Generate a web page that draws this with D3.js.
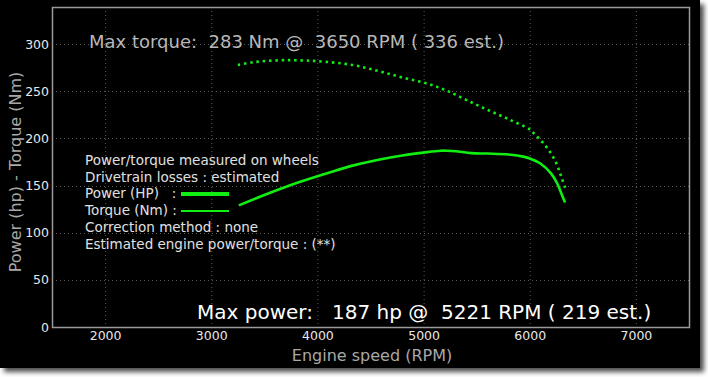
<!DOCTYPE html>
<html><head><meta charset="utf-8">
<script src="https://cdn.jsdelivr.net/npm/d3@7"></script>
<style>html,body{margin:0;padding:0;background:#fff;}svg{display:block;}</style>
</head><body>
<script>
// ---- data ----
const powerRpm = [3260, 3500, 3810, 4130, 4360, 4600, 4800, 5000, 5160, 5221, 5300, 5450, 5600, 5800, 5950, 6000, 6100, 6200, 6260, 6300, 6333];
const powerHp  = [129, 140, 153, 164.5, 172, 178, 182, 185, 187, 187, 186.5, 184.5, 184, 183, 180.5, 178.8, 173.5, 163, 152, 141, 132];
const torqueRpm = [3250, 3400, 3650, 3800, 4000, 4330, 4570, 4800, 5040, 5213, 5400, 5600, 5800, 6000, 6043, 6122, 6200, 6255, 6295, 6333];
const torqueNm  = [278, 281, 283, 283, 282, 278, 271.7, 264.7, 258, 251, 241, 230.5, 220.5, 209.6, 205, 195.8, 184, 172.5, 160, 147.7];
const xTicks = [2000, 3000, 4000, 5000, 6000, 7000];
const yTicks = [0, 50, 100, 150, 200, 250, 300];
const legendLines = ["Power/torque measured on wheels", "Drivetrain losses : estimated", "Power (HP)   :", "Torque (Nm) :", "Correction method : none", "Estimated engine power/torque : (**)"];
const maxTorqueText = "Max torque:  283 Nm @  3650 RPM ( 336 est.)";
const maxPowerText = "Max power:   187 hp @  5221 RPM ( 219 est.)";
const xTitle = "Engine speed (RPM)";
const yTitle = "Power (hp) - Torque (Nm)";

const W = 708, H = 377;
const svg = d3.select("body").append("svg").attr("width", W).attr("height", H);
const defs = svg.append("defs");
const f = defs.append("filter").attr("id", "sh").attr("x", "-5%").attr("y", "-5%").attr("width", "115%").attr("height", "115%");
f.append("feDropShadow").attr("dx", 4).attr("dy", 4).attr("stdDeviation", 2.5).attr("flood-color", "#000").attr("flood-opacity", 0.7);
svg.append("rect").attr("x", 0).attr("y", 0).attr("width", 700).attr("height", 368).attr("fill", "#000").attr("filter", "url(#sh)");

const L = 52, R = 689, T = 7, B = 327;
const x = d3.scaleLinear().domain([1500, 7500]).range([L, R]);
const y = d3.scaleLinear().domain([0, 339.5]).range([B, T]);
const font = "DejaVu Sans, sans-serif";

// grid
const g = svg.append("g");
g.selectAll(".vg").data(xTicks).join("line")
  .attr("x1", d => x(d) + 0.5).attr("x2", d => x(d) + 0.5).attr("y1", T).attr("y2", B)
  .attr("stroke", "#5a5a5a").attr("stroke-width", 1).attr("stroke-dasharray", "1,3");
g.selectAll(".hg").data(yTicks.filter(d => d > 0)).join("line")
  .attr("x1", L).attr("x2", R).attr("y1", d => Math.round(y(d)) + 0.5).attr("y2", d => Math.round(y(d)) + 0.5)
  .attr("stroke", "#5a5a5a").attr("stroke-width", 1).attr("stroke-dasharray", "1,3");

// frame
svg.append("rect").attr("x", L + 0.5).attr("y", T + 0.5).attr("width", R - L).attr("height", B - T)
  .attr("fill", "none").attr("stroke", "#9a9a9a").attr("stroke-width", 1.5);

// axes
const xa = svg.append("g").attr("transform", `translate(0,${B})`)
  .call(d3.axisBottom(x).tickValues(xTicks).tickSize(0).tickPadding(4).tickFormat(d3.format("d")));
xa.select(".domain").remove();
xa.selectAll("text").attr("fill", "#e8e8e8").attr("font-family", font).attr("font-size", "12.5px");
const ya = svg.append("g").attr("transform", `translate(${L},0)`)
  .call(d3.axisLeft(y).tickValues(yTicks).tickSize(0).tickPadding(3).tickFormat(d3.format("d")));
ya.select(".domain").remove();
ya.selectAll("text").attr("fill", "#e8e8e8").attr("font-family", font).attr("font-size", "12.5px");

// titles
svg.append("text").attr("x", 372).attr("y", 361).attr("text-anchor", "middle")
  .attr("fill", "#a8a8a8").attr("font-family", font).attr("font-size", "16px").text(xTitle);
svg.append("text").attr("transform", `translate(21,${(T + B) / 2 + 5}) rotate(-90)`).attr("text-anchor", "middle")
  .attr("fill", "#a8a8a8").attr("font-family", font).attr("font-size", "16px").text(yTitle);

// curves
const line = d3.line().curve(d3.curveCatmullRom.alpha(0.5));
svg.append("path").attr("d", line(torqueRpm.map((r, i) => [x(r), y(torqueNm[i])])))
  .attr("fill", "none").attr("stroke", "#11ee11").attr("stroke-width", 2.6).attr("stroke-dasharray", "2.5,3.8");
svg.append("path").attr("d", line(powerRpm.map((r, i) => [x(r), y(powerHp[i])])))
  .attr("fill", "none").attr("stroke", "#11ee11").attr("stroke-width", 2.6);

// legend
const lg = svg.append("g");
lg.selectAll("text").data(legendLines).join("text")
  .attr("x", 85).attr("y", (d, i) => 165 + i * 16.7)
  .attr("fill", "#e0e0e0").attr("font-family", font).attr("font-size", "13.5px")
  .attr("xml:space", "preserve").style("white-space", "pre").text(d => d);
lg.append("line").attr("x1", 181).attr("x2", 229).attr("y1", 194).attr("y2", 194).attr("stroke", "#11ee11").attr("stroke-width", 4);
lg.append("line").attr("x1", 181).attr("x2", 229).attr("y1", 211).attr("y2", 211).attr("stroke", "#11ee11").attr("stroke-width", 2);

// annotations
svg.append("text").attr("x", 89).attr("y", 48).attr("fill", "#b8b8b8").attr("font-family", font).attr("font-size", "18px")
  .attr("xml:space", "preserve").style("white-space", "pre").text(maxTorqueText);
svg.append("text").attr("x", 197).attr("y", 319).attr("fill", "#ffffff").attr("font-family", font).attr("font-size", "20px")
  .attr("xml:space", "preserve").style("white-space", "pre").text(maxPowerText);
</script>
</body></html>
